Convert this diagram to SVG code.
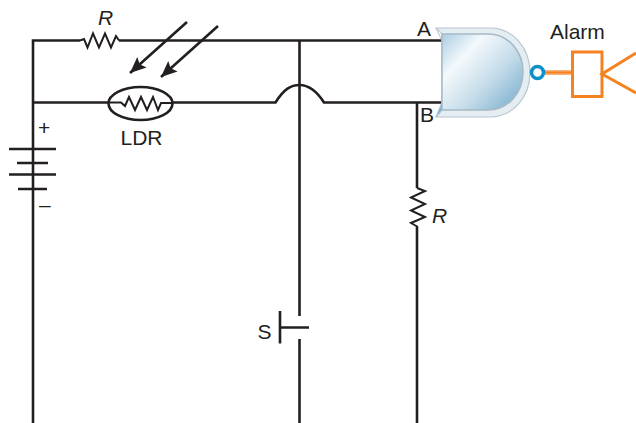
<svg xmlns="http://www.w3.org/2000/svg" width="636" height="423" viewBox="0 0 636 423">
<style>
.w{fill:none;stroke:#231f20;stroke-width:2.6;stroke-linejoin:miter}
.z{fill:none;stroke:#231f20;stroke-width:2;stroke-linejoin:miter}
.t{font-family:"Liberation Sans",Arial,sans-serif;font-size:21px;fill:#231f20}
.i{font-style:italic}
.o{fill:none;stroke:#f58220;stroke-width:3}
</style>
<defs>
<marker id="ah" markerUnits="userSpaceOnUse" markerWidth="18" markerHeight="16" refX="16" refY="7" orient="auto"><path d="M0 0L16 7L0 14L3 7Z" fill="#231f20"/></marker>
<linearGradient id="gb" gradientUnits="userSpaceOnUse" x1="442" y1="34" x2="523" y2="110"><stop offset="0" stop-color="#a9cde2"/><stop offset=".28" stop-color="#f4f9fc"/><stop offset=".6" stop-color="#c5dce9"/><stop offset="1" stop-color="#6fa9cd"/></linearGradient>
</defs>
<g id="connectors">
<path class="w" d="M80 40.500H33V423"/>
<path class="w" d="M119 40.500H442"/>
<path class="w" d="M33 102.500H108"/>
<path class="w" d="M173 102.500H275.500C284 89 291 85 299.500 85C308 85 316 90 324 102.500H442"/>
<path class="w" d="M299.500 40.500V316"/>
<path class="w" d="M299.500 339V423"/>
<path class="w" d="M417 102.500V188"/>
<path class="w" d="M417 227V423"/>
<path d="M187 22L130 73" stroke="#231f20" stroke-width="2.600" fill="none" marker-end="url(#ah)"/>
<path d="M218 26L161 77" stroke="#231f20" stroke-width="2.600" fill="none" marker-end="url(#ah)"/>
<path d="M545 72.500H572" stroke="#f9b27a" stroke-width="5" fill="none"/>
<path d="M545 72.500H572" stroke="#f58220" stroke-width="2" fill="none"/>
</g>
<g id="resistor-top">
<path class="z" d="M80 40.500L84 39L87.500 47.500L93 33.500L99 47.500L105 33.500L111 47.500L116 36L119 40.500"/>
<text class="t i" x="98" y="25">R</text>
</g>
<g id="ldr">
<ellipse cx="140.500" cy="103.500" rx="32" ry="16.500" fill="none" stroke="#231f20" stroke-width="2.600"/>
<path class="z" d="M108 102.500H121L125 106L129 97L135 110L141 97L147 110L153 97L158 110L161 103H173"/>
<text class="t" x="120.500" y="144.500">LDR</text>
</g>
<g id="battery">
<path class="w" d="M9 149H56M17 163H48M9 174.500H56M18 189H47"/>
<text class="t" x="38" y="135">+</text>
<text class="t" x="39" y="212">–</text>
</g>
<g id="switch">
<path class="w" d="M280 311V343.500M280 327.500H309"/>
<text class="t" x="257.500" y="338.500">S</text>
</g>
<g id="resistor-bottom">
<path class="z" d="M417 188L425 191L411 197.500L425 204L411 210.500L425 217L411 223L418 227"/>
<text class="t i" x="432" y="223">R</text>
</g>
<g id="gate">
<path d="M436 28H490C513 28 530 48 530 72.500C530 97 513 117 490 117H436L442 110V34Z" fill="#e4edf2" stroke="#b9c6cf" stroke-width="1.200"/>
<path d="M436 28L442 34V41Z" fill="#f5f8fa" stroke="#b9c6cf" stroke-width="1"/>
<path d="M436 117L442 110V102Z" fill="#7fb2d2" stroke="#a7c4d6" stroke-width="1"/>
<path d="M442 34H488C508 34 523 51 523 72C523 93 508 110 488 110H442Z" fill="url(#gb)" stroke="#a7b9c5" stroke-width="1.500"/>
<circle cx="537.500" cy="72.500" r="6" fill="#fff" stroke="#0f8fc9" stroke-width="3.500"/>
<text class="t" x="417" y="36">A</text>
<text class="t" x="420" y="121.500">B</text>
</g>
<g id="alarm">
<rect class="o" x="572.500" y="52" width="29.500" height="44.500" fill="#fff"/>
<path class="o" d="M636 53L602 74L636 93"/>
<text class="t" x="550" y="38.500">Alarm</text>
</g>
</svg>
